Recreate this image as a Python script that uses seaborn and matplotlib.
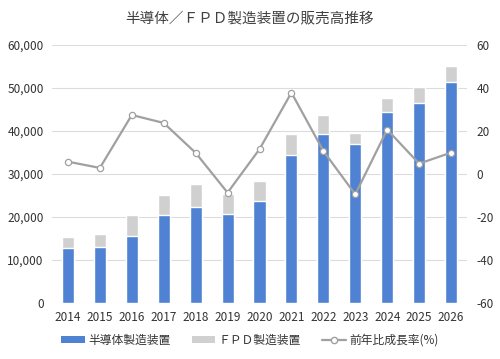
import matplotlib
matplotlib.use("Agg")
import matplotlib.pyplot as plt
import seaborn as sns
import numpy as np
import pandas as pd
from matplotlib.patches import Patch
from matplotlib.lines import Line2D

years = ["2014", "2015", "2016", "2017", "2018", "2019", "2020",
         "2021", "2022", "2023", "2024", "2025", "2026"]
semi = [12800, 13000, 15500, 20400, 22400, 20700, 23800,
        34400, 39200, 37000, 44300, 46500, 51300]
total = [15400, 16000, 20400, 25200, 27700, 25300, 28400,
         39200, 43600, 39500, 47700, 50100, 55000]
growth = [5.7, 2.8, 27.4, 23.7, 9.8, -8.7, 11.5,
          37.8, 10.7, -9.5, 20.6, 4.8, 9.9]
right_ticks = [-60, -40, -20, 0, 20, 40, 60]

title = "半導体／ＦＰＤ製造装置の販売高推移"
lab_semi = "半導体製造装置"
lab_fpd = "ＦＰＤ製造装置"
lab_growth = "前年比成長率(%)"

sns.set_theme(style="white")
plt.rcParams['font.family'] = ['Noto Sans CJK JP', 'DejaVu Sans']

BLUE = "#4f82d3"
GRAY = "#d0d0d0"
LINE = "#a0a0a0"
TXT = "#333333"

df = pd.DataFrame({"year": years, "semi": semi, "total": total, "growth": growth})

fig = plt.figure(figsize=(5, 3.59), dpi=100)
ax = fig.add_axes([0.104, 0.156, 0.830, 0.719])

sns.barplot(data=df, x="year", y="total", color=GRAY, width=0.38,
            saturation=1, ax=ax, zorder=2)
sns.barplot(data=df, x="year", y="semi", color=BLUE, width=0.38,
            saturation=1, ax=ax, zorder=3)
ax.set_ylim(0, 60000)
ax.set_xlim(-0.5, 12.5)
ax.set_yticks(np.arange(0, 60001, 10000))
ax.set_yticklabels([f"{v:,}" for v in range(0, 60001, 10000)])
ax.yaxis.grid(True, color="#dcdcdc", linewidth=0.8, zorder=0)
ax.set_axisbelow(True)
ax.set_xlabel("")
ax.set_ylabel("")
for s in ax.spines.values():
    s.set_visible(False)
ax.tick_params(axis="both", length=0, labelsize=8.5, colors=TXT, pad=6)

ax2 = ax.twinx()
sns.lineplot(x=np.arange(len(years)), y=growth, ax=ax2, color=LINE,
             linewidth=1.6, marker="o", markersize=4.5,
             markerfacecolor="white", markeredgecolor=LINE,
             markeredgewidth=0.9, zorder=5)
ax2.set_ylim(-60, 60)
ax2.set_xlim(-0.5, 12.5)
ax2.set_yticks(right_ticks)
ax2.set_yticklabels([str(v) for v in right_ticks])
for s in ax2.spines.values():
    s.set_visible(False)
ax2.tick_params(axis="both", length=0, labelsize=8.5, colors=TXT, pad=7)
ax2.grid(False)
ax2.set_ylabel("")

fig.text(0.5, 0.95, title, ha="center", va="center", fontsize=10.5, color="#404040")

handles = [Patch(facecolor=BLUE, edgecolor="none"),
           Patch(facecolor=GRAY, edgecolor="none"),
           Line2D([0], [0], color=LINE, linewidth=1.6, marker="o",
                  markersize=4.5, markerfacecolor="white", markeredgecolor=LINE)]
fig.legend(handles, [lab_semi, lab_fpd, lab_growth], loc="center",
           bbox_to_anchor=(0.5, 0.053), ncol=3, frameon=False,
           fontsize=8.5, handlelength=2.0, handleheight=0.6,
           columnspacing=1.8, handletextpad=0.3, labelcolor=TXT)

fig.savefig("out.png", dpi=100)
